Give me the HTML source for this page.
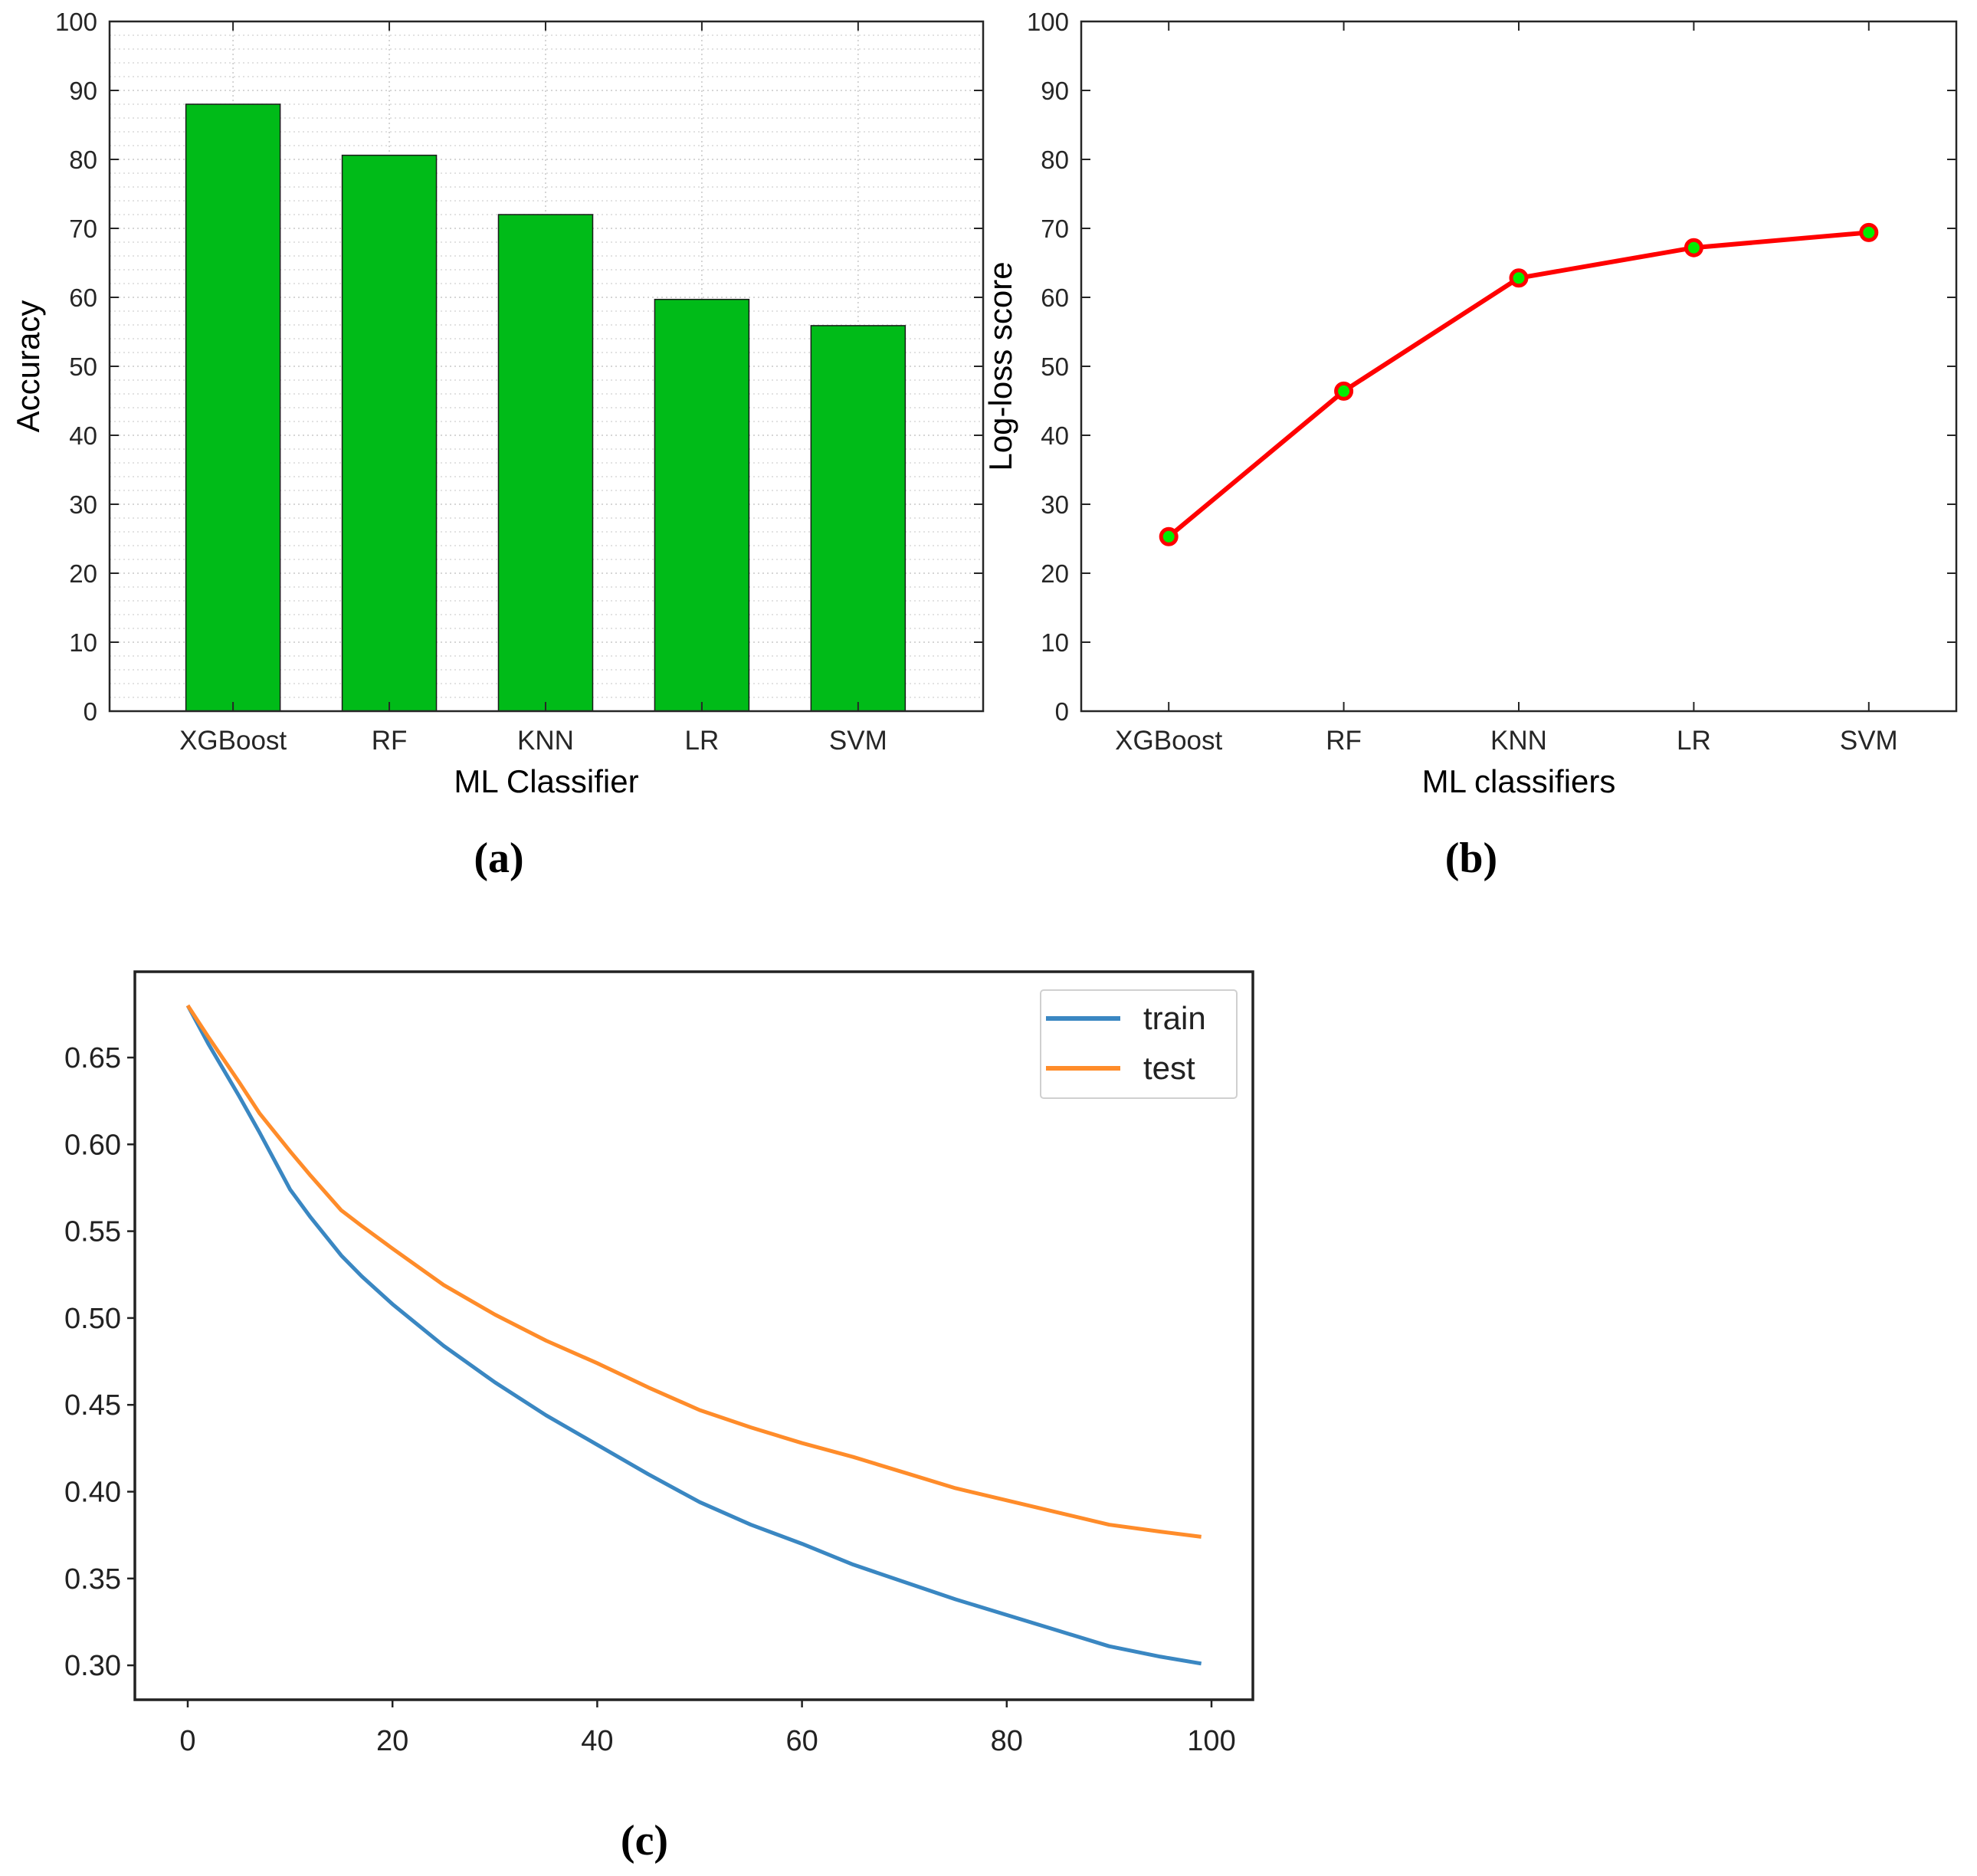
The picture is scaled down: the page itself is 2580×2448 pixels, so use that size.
<!DOCTYPE html>
<html><head><meta charset="utf-8">
<style>
html,body{margin:0;padding:0;background:#fff;}
svg{display:block;}
text{font-family:"Liberation Sans",Arial,sans-serif;}
.cap{font-family:"Liberation Serif",serif;font-weight:bold;font-size:56px;}
</style></head>
<body>
<svg id="fig" width="2580" height="2448" viewBox="0 0 2580 2448" xmlns="http://www.w3.org/2000/svg">
<rect x="0" y="0" width="2580" height="2448" fill="#fff"/>
</svg>
<script>
// ---- Data ----
const categories = ["XGBoost","RF","KNN","LR","SVM"];
const accuracyValues = [88, 80.6, 72, 59.7, 55.9];
const loglossValues = [25.3, 46.4, 62.8, 67.2, 69.4];
const yTicksAB = [0,10,20,30,40,50,60,70,80,90,100];
const epochs = [0,2,5,7,10,12,15,17,20,25,30,35,40,45,50,55,60,65,70,75,80,85,90,95,99];
const trainLoss = [0.680,0.658,0.628,0.607,0.574,0.558,0.536,0.524,0.508,0.484,0.463,0.444,0.427,0.410,0.394,0.381,0.370,0.358,0.348,0.338,0.329,0.320,0.311,0.305,0.301];
const testLoss = [0.680,0.662,0.636,0.618,0.596,0.582,0.562,0.553,0.540,0.519,0.502,0.487,0.474,0.460,0.447,0.437,0.428,0.420,0.411,0.402,0.395,0.388,0.381,0.377,0.374];
const xTicksC = [0,20,40,60,80,100];
const yTicksC = [0.30,0.35,0.40,0.45,0.50,0.55,0.60,0.65];

const NS="http://www.w3.org/2000/svg";
const svg=document.getElementById('fig');
function el(tag,attrs,parent,txt){const e=document.createElementNS(NS,tag);for(const k in attrs)e.setAttribute(k,attrs[k]);if(txt!==undefined)e.textContent=txt;(parent||svg).appendChild(e);return e;}

// ---- Chart A ----
const A={l:143,r:1283,t:28,b:928,xmin:0.21,xmax:5.8};
const ax=v=>A.l+(v-A.xmin)/(A.xmax-A.xmin)*(A.r-A.l);
const ay=v=>A.b-v/100*(A.b-A.t);
const gA=el('g',{});


for(let v=2;v<100;v+=2){ if(v%10===0) continue;
  el('line',{x1:A.l,x2:A.r,y1:ay(v),y2:ay(v),stroke:'#d8d8d8','stroke-width':1.5,'stroke-dasharray':'2,4'},gA);}
for(let v=10;v<100;v+=10){
  el('line',{x1:A.l,x2:A.r,y1:ay(v),y2:ay(v),stroke:'#c8c8c8','stroke-width':1.5,'stroke-dasharray':'2,4'},gA);}
categories.forEach((c,i)=>{el('line',{x1:ax(i+1),x2:ax(i+1),y1:A.t,y2:A.b,stroke:'#c8c8c8','stroke-width':1.5,'stroke-dasharray':'2,4'},gA);});
const bw=123;
accuracyValues.forEach((v,i)=>{
  const r=el('rect',{x:ax(i+1)-bw/2,y:ay(v),width:bw,height:ay(0)-ay(v),fill:'#00bb18',stroke:'#1a1a1a','stroke-width':1.5},gA);
  
  
});
el('rect',{x:A.l,y:A.t,width:A.r-A.l,height:A.b-A.t,fill:'none',stroke:'#262626','stroke-width':2.5},gA);
yTicksAB.forEach(v=>{
  el('line',{x1:A.l,x2:A.l+12,y1:ay(v),y2:ay(v),stroke:'#262626','stroke-width':2},gA);
  el('line',{x1:A.r,x2:A.r-12,y1:ay(v),y2:ay(v),stroke:'#262626','stroke-width':2},gA);
  el('text',{x:A.l-16,y:ay(v)+12,'text-anchor':'end','font-size':33,fill:'#262626'},gA,String(v));
});
categories.forEach((c,i)=>{
  el('line',{x1:ax(i+1),x2:ax(i+1),y1:A.b,y2:A.b-12,stroke:'#262626','stroke-width':2},gA);
  el('line',{x1:ax(i+1),x2:ax(i+1),y1:A.t,y2:A.t+12,stroke:'#262626','stroke-width':2},gA);
  el('text',{x:ax(i+1),y:978,'text-anchor':'middle','font-size':35,fill:'#262626'},gA,c);
});
let t=el('text',{x:713,y:1034,'text-anchor':'middle','font-size':42,fill:'#000'},gA,'ML Classifier');

t=el('text',{x:0,y:0,transform:'translate(51,478) rotate(-90)','text-anchor':'middle','font-size':42,fill:'#000'},gA,'Accuracy');

t=el('text',{x:651,y:1138,'text-anchor':'middle',class:'cap'},gA,'(a)');


// ---- Chart B ----
const B={l:1411,r:2553,t:28,b:928,xmin:0.5,xmax:5.5};
const bx=v=>B.l+(v-B.xmin)/(B.xmax-B.xmin)*(B.r-B.l);
const by=v=>B.b-v/100*(B.b-B.t);
const gB=el('g',{});


el('rect',{x:B.l,y:B.t,width:B.r-B.l,height:B.b-B.t,fill:'none',stroke:'#262626','stroke-width':2.5},gB);
yTicksAB.forEach(v=>{
  el('line',{x1:B.l,x2:B.l+12,y1:by(v),y2:by(v),stroke:'#262626','stroke-width':2},gB);
  el('line',{x1:B.r,x2:B.r-12,y1:by(v),y2:by(v),stroke:'#262626','stroke-width':2},gB);
  el('text',{x:B.l-16,y:by(v)+12,'text-anchor':'end','font-size':33,fill:'#262626'},gB,String(v));
});
categories.forEach((c,i)=>{
  el('line',{x1:bx(i+1),x2:bx(i+1),y1:B.b,y2:B.b-12,stroke:'#262626','stroke-width':2},gB);
  el('line',{x1:bx(i+1),x2:bx(i+1),y1:B.t,y2:B.t+12,stroke:'#262626','stroke-width':2},gB);
  el('text',{x:bx(i+1),y:978,'text-anchor':'middle','font-size':35,fill:'#262626'},gB,c);
});
const lp=el('polyline',{points:loglossValues.map((v,i)=>bx(i+1)+','+by(v)).join(' '),fill:'none',stroke:'#ff0000','stroke-width':6,'stroke-linejoin':'round'},gB);

loglossValues.forEach((v,i)=>{
  const c=el('circle',{cx:bx(i+1),cy:by(v),r:10,fill:'#00ee00',stroke:'#ff0000','stroke-width':5},gB);
  
  
});
t=el('text',{x:1982,y:1034,'text-anchor':'middle','font-size':42,fill:'#000'},gB,'ML classifiers');

t=el('text',{x:0,y:0,transform:'translate(1320,478) rotate(-90)','text-anchor':'middle','font-size':42,fill:'#000'},gB,'Log-loss score');

t=el('text',{x:1920,y:1138,'text-anchor':'middle',class:'cap'},gB,'(b)');


// ---- Chart C ----
const C={l:176,r:1635,t:1268,b:2218};
const cx=v=>245+v*(1581-245)/100;
const cy=v=>1380+(0.65-v)/0.05*113.3;
const gC=el('g',{});


const tl=el('polyline',{points:epochs.map((e,i)=>cx(e)+','+cy(trainLoss[i])).join(' '),fill:'none',stroke:'#3a87c2','stroke-width':5,'stroke-linejoin':'round'},gC);

const te=el('polyline',{points:epochs.map((e,i)=>cx(e)+','+cy(testLoss[i])).join(' '),fill:'none',stroke:'#ff8c2a','stroke-width':5,'stroke-linejoin':'round'},gC);

el('rect',{x:C.l,y:C.t,width:C.r-C.l,height:C.b-C.t,fill:'none',stroke:'#222','stroke-width':3.5},gC);
yTicksC.forEach(v=>{
  el('line',{x1:C.l,x2:C.l-10,y1:cy(v),y2:cy(v),stroke:'#222','stroke-width':2.5},gC);
  el('text',{x:C.l-18,y:cy(v)+13,'text-anchor':'end','font-size':38,fill:'#222','font-family':'DejaVu Sans Condensed, DejaVu Sans, sans-serif'},gC,v.toFixed(2));
});
xTicksC.forEach(v=>{
  el('line',{x1:cx(v),x2:cx(v),y1:C.b,y2:C.b+10,stroke:'#222','stroke-width':2.5},gC);
  el('text',{x:cx(v),y:2284,'text-anchor':'middle','font-size':38,fill:'#222','font-family':'DejaVu Sans Condensed, DejaVu Sans, sans-serif'},gC,String(v));
});
const lg=el('g',{},gC);

el('rect',{x:1358,y:1292,width:256,height:141,rx:4,fill:'#fff',stroke:'#d0d0d0','stroke-width':2},lg);
el('line',{x1:1365,x2:1462,y1:1329,y2:1329,stroke:'#3a87c2','stroke-width':6},lg);
el('text',{x:1492,y:1343,'font-size':42,fill:'#222','font-family':'DejaVu Sans Condensed, DejaVu Sans, sans-serif'},lg,'train');
el('line',{x1:1365,x2:1462,y1:1394,y2:1394,stroke:'#ff8c2a','stroke-width':6},lg);
el('text',{x:1492,y:1408,'font-size':42,fill:'#222','font-family':'DejaVu Sans Condensed, DejaVu Sans, sans-serif'},lg,'test');
t=el('text',{x:841,y:2420,'text-anchor':'middle',class:'cap'},gC,'(c)');

</script>
</body></html>
